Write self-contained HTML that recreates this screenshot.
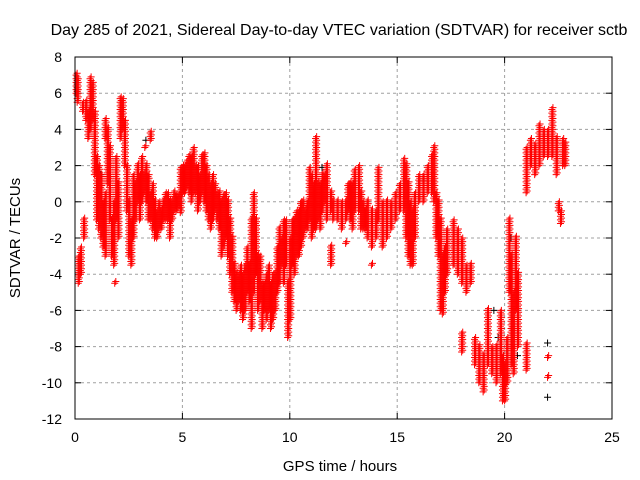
<!DOCTYPE html>
<html><head><meta charset="utf-8"><style>
body{margin:0;background:#fff}
svg{display:block;font-family:"Liberation Sans",sans-serif}
</style></head><body>
<svg id="chart" width="640" height="480">
<rect width="640" height="480" fill="#fff"/>
<text x="339" y="35" font-size="16" text-anchor="middle">Day 285 of 2021, Sidereal Day-to-day VTEC variation (SDTVAR) for receiver sctb</text>
<text x="340" y="471" font-size="15" text-anchor="middle">GPS time / hours</text>
<text transform="translate(20,238) rotate(-90)" font-size="15" text-anchor="middle">SDTVAR / TECUs</text>
<g id="grid"></g><g id="ticks"></g><g id="marks"></g>
<rect x="75" y="57" width="537" height="362" fill="none" stroke="#000" stroke-width="1"/>
</svg>
<script>
const xTicks=[0,5,10,15,20,25];
const yTicks=[8,6,4,2,0,-2,-4,-6,-8,-10,-12];
// [time, low, high] bands of red samples
const redBands=[[0.05,6,7],[0.1,5.5,6.8],[0.15,-4.5,-3],[0.25,-4,-2.5],[0.35,5,5.5],[0.4,-2,-1],[0.5,4.5,5.5],[0.6,3.5,5],[0.7,4,6.8],[0.8,4.5,6.5],[0.9,1.5,5],[1.0,-1,2.5],[1.1,-1.5,2],[1.2,-2,1.5],[1.3,-2.5,0],[1.4,-3,0.5],[1.4,3.5,4.5],[1.5,1,4],[1.6,-1,3],[1.7,-3,-1],[1.8,-3.5,0],[1.85,-4.5,-4.4],[1.9,-1,2.5],[2.0,-2,1],[2.1,3.5,5.8],[2.2,4,5.7],[2.3,2,4.5],[2.4,-0.5,2],[2.5,-3,0],[2.6,-3.5,-1],[2.7,-2,1.5],[2.8,-1,1],[2.9,0,2],[3.0,-1,1.5],[3.1,0,2.5],[3.2,0.5,1.5],[3.25,3,3.1],[3.3,0,2],[3.4,-1,1.5],[3.5,-1,0.5],[3.5,3.4,3.9],[3.6,-1.5,1],[3.7,-2,0],[3.8,-2,-0.5],[3.9,-1.5,0],[4.0,-1.5,-0.5],[4.1,-1,0],[4.2,-1,0.5],[4.3,-1,0.5],[4.4,-2,0],[4.5,-1,0],[4.6,-0.5,0.5],[4.7,-0.5,0.3],[4.8,-0.3,0.3],[4.9,-0.6,1.8],[5.0,0.5,2],[5.1,0.5,2],[5.2,0.8,2.2],[5.3,0.5,2.5],[5.4,0,2.5],[5.5,0.5,3],[5.6,0.5,2],[5.7,-0.5,2],[5.8,0,1.5],[5.9,0.5,2.5],[6.0,0,2.7],[6.1,-0.5,2],[6.2,-1,1.5],[6.3,-1.5,1],[6.4,-1,1.5],[6.5,-0.5,1],[6.6,-1,0.5],[6.7,-1.5,0.5],[6.8,-3,0],[6.9,-2.5,0.3],[7.0,-2,0.5],[7.1,-3,0],[7.2,-4,-1],[7.3,-5,-2],[7.4,-5.5,-3.5],[7.5,-6,-4],[7.6,-5.5,-4],[7.7,-6,-3.5],[7.8,-6.5,-4],[7.9,-6,-3.5],[8.0,-5,-2.5],[8.1,-5.5,-3.5],[8.2,-7,-1],[8.3,-5,0.5],[8.4,-4,-1],[8.5,-6,-3],[8.6,-5.5,-3],[8.7,-7,-4.5],[8.8,-6,-4.5],[8.9,-6.5,-4],[9.0,-6,-3.5],[9.1,-7,-4.5],[9.2,-6.5,-4],[9.3,-6,-4],[9.4,-5,-2.5],[9.5,-4.5,-1.5],[9.6,-3.5,-2],[9.7,-4.5,-1],[9.8,-3.5,-1],[9.9,-7.5,-4.5],[10.0,-6.5,-2],[10.1,-3.5,-1],[10.2,-4,-1],[10.3,-3,-0.5],[10.4,-3,-0.5],[10.5,-2.5,0],[10.6,-2,0],[10.7,-1.5,-0.5],[10.8,-1.5,0],[10.9,-1,1.8],[11.0,-2,1.5],[11.1,-1.5,1],[11.2,-1.5,3.5],[11.3,-1,1],[11.4,-1.5,1],[11.5,-0.5,1.5],[11.6,0,1.5],[11.7,-1,2],[11.9,-3.5,-2.5],[11.9,-0.5,0.5],[12.0,-1,0],[12.2,-1,0],[12.4,-1.5,0],[12.6,-1,0],[12.6,-2.3,-2.2],[12.7,-0.5,1],[12.8,-1,1],[12.9,-1.5,1],[13.0,-0.5,1.8],[13.2,-0.5,2],[13.3,-1.5,0.5],[13.4,-1.5,0],[13.5,-1.5,-0.5],[13.6,-2,0],[13.8,-2.5,-0.5],[13.8,-3.5,-3.4],[14.0,-2,-0.5],[14.1,-1,1.8],[14.3,-2.5,0],[14.5,-2,0],[14.7,-1.5,0],[14.9,-1,0.5],[15.1,-0.5,1],[15.3,-0.5,2.3],[15.4,-2,2],[15.5,-3,1],[15.6,-3.5,0],[15.7,-3.5,-0.5],[15.8,-2,0.5],[16.0,0,1.5],[16.2,0,1.5],[16.4,0.5,2],[16.6,0.5,2.5],[16.7,0,3],[16.8,-2,0.5],[16.9,-3,0],[17.0,-6,-1],[17.1,-6.2,-3],[17.2,-5,-2.5],[17.3,-4,-1.5],[17.6,-3.5,-1],[17.8,-4,-1.5],[18.0,-4.5,-2],[18.0,-8.3,-7.3],[18.2,-5,-3.5],[18.4,-4.5,-3.5],[18.6,-9,-7.5],[18.8,-10,-8],[19.0,-10.5,-8.5],[19.2,-9,-6],[19.4,-9.5,-8],[19.6,-10,-8],[19.8,-9.5,-6],[19.9,-11,-8.5],[20.0,-11,-9],[20.1,-10,-7.5],[20.2,-5,-1],[20.3,-9,-3],[20.4,-9.5,-5],[20.5,-6,-2],[20.6,-8,-4],[21.0,-9.3,-7.8],[21.0,0.5,3],[21.2,2,3.5],[21.4,1.5,3.2],[21.6,2,4.3],[21.8,2.5,4],[22.0,2.5,4],[22.2,2.5,5.2],[22.4,1.5,3.5],[22.5,-0.5,0],[22.6,-1.2,-0.5],[22.7,2,3.5],[22.8,2,3.2],[22.0,-8.6,-8.5],[22.0,-9.7,-9.6]];
const blackT=[3.3,19.5,19.7,20.3,20.6,22.0,22.0,1.2,11.5,16.2];
const blackV=[3.4,-6,-7.5,-2,-8.5,-7.8,-10.8,1.5,1.9,1.2];

const X0=75,X1=612,Y0=419,Y1=57;
const sx=t=>X0+(t-0)/(25-0)*(X1-X0);
const sy=v=>Y0-(v-(-12))/(8-(-12))*(Y0-Y1);
const NS="http://www.w3.org/2000/svg";
function mk(tag,attrs,parent){const e=document.createElementNS(NS,tag);for(const k in attrs)e.setAttribute(k,attrs[k]);parent.appendChild(e);return e;}
const grid=document.getElementById('grid'),ticks=document.getElementById('ticks'),marks=document.getElementById('marks');
xTicks.forEach(t=>{const x=sx(t);
 if(t>0&&t<25){const g=mk('line',{x1:x,x2:x,y1:Y1,y2:Y0,stroke:'#a0a0a0','stroke-dasharray':'3,3'},grid);
 
 }
 mk('line',{x1:x,x2:x,y1:Y0,y2:Y0-6,stroke:'#000'},ticks);mk('line',{x1:x,x2:x,y1:Y1,y2:Y1+6,stroke:'#000'},ticks);
 const l=mk('text',{x:x,y:442,'font-size':14,'text-anchor':'middle'},ticks);l.textContent=t;
 
 });
yTicks.forEach(v=>{const y=sy(v);
 if(v>-12&&v<8){const g=mk('line',{x1:X0,x2:X1,y1:y,y2:y,stroke:'#a0a0a0','stroke-dasharray':'3,3'},grid);
 
 }
 mk('line',{x1:X0,x2:X0+6,y1:y,y2:y,stroke:'#000'},ticks);mk('line',{x1:X1,x2:X1-6,y1:y,y2:y,stroke:'#000'},ticks);
 const l=mk('text',{x:62,y:y+5,'font-size':14,'text-anchor':'end'},ticks);l.textContent=v;
 
 });
function plus(t,v,c,name){const x=sx(t),y=sy(v);
 const p=mk('path',{d:`M${x-3.5},${y}h7M${x},${y-3.5}v7`,stroke:c,'stroke-width':1,fill:'none'},marks);
 
 }
blackT.forEach((t,i)=>plus(t,blackV[i],'#000','black-point'));
redBands.forEach(([t,lo,hi])=>{for(let v=lo;v<=hi+1e-6;v+=0.2){plus(t,v,'#f00','red-point');plus(t+0.05,v+0.1,'#f00','red-point');}});
</script>
</body></html>
